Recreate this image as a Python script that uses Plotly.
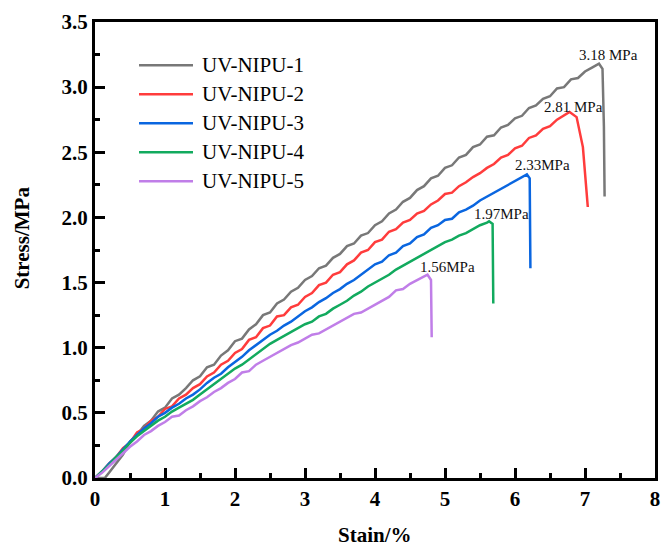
import plotly.graph_objects as go

# Tensile stress-strain curves for the five UV-cured NIPU films
names = ["UV-NIPU-1", "UV-NIPU-2", "UV-NIPU-3", "UV-NIPU-4", "UV-NIPU-5"]
colors = ["#787878", "#ff3c3c", "#0a66e0", "#12aa5e", "#c07ee8"]

# common strain sampling (%)
strain_grid = [0.0, 0.1, 0.2, 0.3, 0.4, 0.5, 0.6, 0.7, 0.8, 0.9,
               1.0, 1.1, 1.2, 1.3, 1.4, 1.5, 1.6, 1.7, 1.8, 1.9,
               2.0, 2.1, 2.2, 2.3, 2.4, 2.5, 2.6, 2.7, 2.8, 2.9,
               3.0, 3.1, 3.2, 3.3, 3.4, 3.5, 3.6, 3.7, 3.8, 3.9,
               4.0, 4.1, 4.2, 4.3, 4.4, 4.5, 4.6, 4.7, 4.8, 4.9,
               5.0, 5.1, 5.2, 5.3, 5.4, 5.5, 5.6, 5.7, 5.8, 5.9,
               6.0, 6.1, 6.2, 6.3, 6.4, 6.5, 6.6, 6.7, 6.8, 6.9,
               7.0, 7.1, 7.2]

# UV-NIPU-1: slack until ~0.14 %, breaks after 7.2 %
strain_1 = [0.0, 0.14] + strain_grid[2:73] + [7.25, 7.27, 7.28]
stress_1 = [0.0, 0.0,
            0.04, 0.11, 0.18, 0.28, 0.33, 0.40, 0.44, 0.51,
            0.54, 0.61, 0.64, 0.69, 0.75, 0.78, 0.85, 0.87, 0.94, 0.98,
            1.05, 1.07, 1.14, 1.18, 1.25, 1.27, 1.34, 1.37, 1.43, 1.46,
            1.52, 1.55, 1.61, 1.63, 1.69, 1.72, 1.78, 1.80, 1.86, 1.88,
            1.94, 1.97, 2.03, 2.06, 2.12, 2.15, 2.21, 2.24, 2.30, 2.32,
            2.38, 2.40, 2.46, 2.48, 2.54, 2.56, 2.62, 2.63, 2.69, 2.71,
            2.76, 2.78, 2.84, 2.86, 2.91, 2.93, 2.99, 3.00, 3.06, 3.07,
            3.12, 3.15, 3.18,
            3.14, 2.70, 2.16]

strain_2 = strain_grid[0:68] + [6.78, 6.88, 6.97, 7.04]
stress_2 = [0.00, 0.05, 0.11, 0.16, 0.23, 0.27, 0.35, 0.38, 0.44, 0.47,
            0.53, 0.55, 0.61, 0.64, 0.69, 0.72, 0.78, 0.81, 0.87, 0.90,
            0.96, 0.99, 1.06, 1.08, 1.15, 1.17, 1.24, 1.25, 1.31, 1.33,
            1.39, 1.42, 1.48, 1.50, 1.56, 1.58, 1.64, 1.67, 1.73, 1.75,
            1.81, 1.83, 1.89, 1.91, 1.96, 1.98, 2.03, 2.05, 2.10, 2.13,
            2.18, 2.19, 2.24, 2.27, 2.31, 2.34, 2.38, 2.41, 2.46, 2.48,
            2.53, 2.55, 2.61, 2.63, 2.68, 2.70, 2.75, 2.78,
            2.81, 2.77, 2.54, 2.08]

strain_3 = strain_grid[0:62] + [6.17, 6.21, 6.22]
stress_3 = [0.00, 0.05, 0.11, 0.16, 0.22, 0.28, 0.33, 0.38, 0.42, 0.47,
            0.50, 0.54, 0.57, 0.61, 0.64, 0.68, 0.73, 0.77, 0.80, 0.85,
            0.89, 0.93, 0.98, 1.02, 1.06, 1.10, 1.13, 1.17, 1.20, 1.24,
            1.28, 1.31, 1.35, 1.38, 1.42, 1.45, 1.49, 1.52, 1.56, 1.60,
            1.64, 1.66, 1.71, 1.73, 1.78, 1.80, 1.85, 1.87, 1.92, 1.94,
            1.98, 1.99, 2.04, 2.06, 2.09, 2.13, 2.16, 2.19, 2.22, 2.25,
            2.28, 2.31,
            2.33, 2.30, 1.61]

strain_4 = strain_grid[0:57] + [5.63, 5.68, 5.69]
stress_4 = [0.00, 0.05, 0.10, 0.16, 0.21, 0.27, 0.32, 0.36, 0.40, 0.44,
            0.47, 0.51, 0.54, 0.57, 0.60, 0.64, 0.68, 0.72, 0.76, 0.80,
            0.84, 0.87, 0.91, 0.95, 0.99, 1.03, 1.06, 1.09, 1.12, 1.15,
            1.18, 1.20, 1.24, 1.26, 1.30, 1.33, 1.36, 1.40, 1.43, 1.47,
            1.50, 1.53, 1.56, 1.60, 1.63, 1.66, 1.69, 1.72, 1.75, 1.78,
            1.81, 1.83, 1.86, 1.88, 1.91, 1.94, 1.96,
            1.97, 1.95, 1.34]

strain_5 = strain_grid[0:48] + [4.75, 4.80, 4.81]
stress_5 = [0.00, 0.04, 0.09, 0.14, 0.19, 0.24, 0.28, 0.33, 0.36, 0.40,
            0.43, 0.47, 0.48, 0.52, 0.55, 0.59, 0.62, 0.66, 0.69, 0.73,
            0.76, 0.81, 0.82, 0.87, 0.90, 0.93, 0.96, 0.99, 1.02, 1.04,
            1.07, 1.10, 1.11, 1.14, 1.17, 1.20, 1.23, 1.26, 1.27, 1.30,
            1.33, 1.36, 1.39, 1.44, 1.45, 1.49, 1.52, 1.55,
            1.56, 1.52, 1.08]

peak_labels = ["3.18 MPa", "2.81 MPa", "2.33MPa", "1.97MPa", "1.56MPa"]
label_x = [7.34, 6.84, 6.39, 5.80, 5.04]
label_y = [3.25, 2.85, 2.40, 2.03, 1.62]

strains = [strain_1, strain_2, strain_3, strain_4, strain_5]
stresses = [stress_1, stress_2, stress_3, stress_4, stress_5]

SERIF = "Liberation Serif, Times New Roman, serif"

fig = go.Figure()
for name, color, xs, ys in zip(names, colors, strains, stresses):
    fig.add_trace(go.Scatter(x=xs, y=ys, mode="lines", name=name,
                             line=dict(color=color, width=2.5), showlegend=False))

for text, lx, ly in zip(peak_labels, label_x, label_y):
    fig.add_annotation(x=lx, y=ly, text=text, showarrow=False,
                       font=dict(family=SERIF, size=15, color="#111111"))

# legend drawn as line samples with labels in the upper-left corner
legend_x0, legend_x1, legend_tx = 0.0786, 0.175, 0.1875
legend_top, legend_step = 0.905, 0.0636
for i, (name, color) in enumerate(zip(names, colors)):
    yy = legend_top - i * legend_step
    fig.add_shape(type="line", xref="paper", yref="paper",
                  x0=legend_x0, x1=legend_x1, y0=yy, y1=yy,
                  line=dict(color=color, width=2.5))
    fig.add_annotation(xref="paper", yref="paper", x=legend_tx, y=yy,
                       xanchor="left", yanchor="middle", text=name, showarrow=False,
                       font=dict(family=SERIF, size=21, color="black"))

# axis titles
title_font = dict(family=SERIF, size=21, color="black", weight="bold")
fig.add_annotation(xref="paper", yref="paper", x=0.5, y=-0.124, text="Stain/%",
                   showarrow=False, xanchor="center", yanchor="middle", font=title_font)
fig.add_annotation(xref="paper", yref="paper", x=-0.130, y=0.526, text="Stress/MPa",
                   showarrow=False, xanchor="center", yanchor="middle", textangle=-90,
                   font=title_font)

axis_common = dict(
    showline=True, linewidth=3, linecolor="black", mirror=True,
    ticks="inside", ticklen=10, tickwidth=3, tickcolor="black",
    showgrid=False, zeroline=False, automargin=False,
    tickfont=dict(family=SERIF, size=21, color="black", weight="bold"),
)

fig.update_xaxes(range=[0, 8], dtick=1, tick0=0,
                 minor=dict(ticks="inside", ticklen=5, tickwidth=3, dtick=0.5, tickcolor="black"),
                 **axis_common)
fig.update_yaxes(range=[0, 3.5], dtick=0.5, tick0=0, tickformat=".1f",
                 minor=dict(ticks="inside", ticklen=5, tickwidth=3, dtick=0.25, tickcolor="black"),
                 **axis_common)

fig.update_layout(
    width=662, height=548,
    margin=dict(l=95, r=7, t=22, b=70),
    paper_bgcolor="white", plot_bgcolor="white",
    showlegend=False,
)

fig.write_html("out.html")
